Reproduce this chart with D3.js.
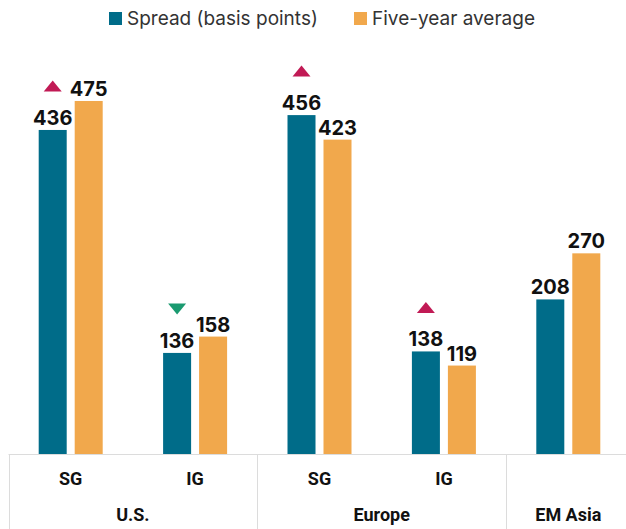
<!DOCTYPE html>
<html>
<head>
<meta charset="utf-8">
<script src="https://cdn.jsdelivr.net/npm/d3@7"></script>
<style>
  body { margin: 0; background: #fff; }
  svg { display: block; }
</style>
</head>
<body>
<svg id="chart" width="626" height="529"></svg>
<script>
// data
const regions = ['U.S.', 'U.S.', 'Europe', 'Europe', 'EM Asia']
const grades = ['SG', 'IG', 'SG', 'IG', '']
const spread = [436, 136, 456, 138, 208]
const fiveYearAvg = [475, 158, 423, 119, 270]
const change = ['up', 'down', 'up', 'up', null]
const seriesNames = ['Spread (basis points)', 'Five-year average']

const colors = { spread: '#006c89', avg: '#f1a84c', up: '#c11a55', down: '#1a9a70' }

let svg = d3.select('#chart')
let base = 454

let x = d3.scaleBand()
    .domain(d3.range(regions.length))
    .range([8.5, 630.5])
    .padding(0)

let sub = d3.scaleBand()
    .domain(['spread', 'avg'])
    .range([-32, 32])
    .paddingInner(0.222)

let y = d3.scaleLinear()
    .domain([0, 500])
    .range([base, base - 500 * 0.7432])

let rows = regions.map((r, i) => ({
  i: i, region: r, grade: grades[i], spread: spread[i], avg: fiveYearAvg[i], change: change[i]
}))

// category frame
let frame = svg.append('g').attr('class', 'frame')
frame.append('line')
    .attr('x1', 8.5).attr('x2', 626)
    .attr('y1', base + 0.5).attr('y2', base + 0.5)
    .attr('stroke', '#dcdcdc')

let groups = d3.groups(rows, d => d.region)
let starts = groups.map(g => x(g[1][0].i))
frame.selectAll('.sep')
    .data(starts)
  .enter().append('line')
    .attr('class', 'sep')
    .attr('x1', d => Math.round(d) + 0.5).attr('x2', d => Math.round(d) + 0.5)
    .attr('y1', base).attr('y2', 529)
    .attr('stroke', '#dcdcdc')

frame.selectAll('.grade')
    .data(rows.filter(d => d.grade))
  .enter().append('text')
    .attr('class', 'grade')
    .attr('x', d => x(d.i) + x.bandwidth() / 2)
    .attr('y', 485)
    .attr('text-anchor', 'middle')
    .style('font-family', 'Roboto, sans-serif')
    .style('font-weight', 'bold')
    .style('font-size', '18px')
    .attr('fill', '#111')
    .text(d => d.grade)

frame.selectAll('.region')
    .data(groups)
  .enter().append('text')
    .attr('class', 'region')
    .attr('x', g => {
      let a = x(g[1][0].i)
      let b = x(g[1][g[1].length - 1].i) + x.bandwidth()
      return (a + b) / 2
    })
    .attr('y', 521)
    .attr('text-anchor', 'middle')
    .style('font-family', 'Roboto, sans-serif')
    .style('font-weight', 'bold')
    .style('font-size', '18px')
    .attr('fill', '#111')
    .text(g => g[0])

// bars
let chart = svg.append('g').attr('class', 'bars')
;['spread', 'avg'].forEach(key => {
  chart.selectAll('.bar-' + key)
      .data(rows)
    .enter().append('rect')
      .attr('class', 'bar-' + key)
      .attr('x', d => x(d.i) + x.bandwidth() / 2 + sub(key))
      .attr('y', d => y(d[key]))
      .attr('width', sub.bandwidth())
      .attr('height', d => base - y(d[key]))
      .attr('fill', colors[key])

  chart.selectAll('.lbl-' + key)
      .data(rows)
    .enter().append('text')
      .attr('class', 'lbl-' + key)
      .attr('x', d => x(d.i) + x.bandwidth() / 2 + sub(key) + sub.bandwidth() / 2)
      .attr('y', d => y(d[key]) - 5)
      .attr('text-anchor', 'middle')
      .style('font-family', 'Inter, sans-serif')
      .style('font-weight', 'bold')
      .style('font-size', '20px')
      .attr('fill', '#111')
      .text(d => d[key])
})

// change markers over the spread bars
chart.selectAll('.marker')
    .data(rows.filter(d => d.change))
  .enter().append('path')
    .attr('class', 'marker')
    .attr('transform', d => {
      let cx = x(d.i) + x.bandwidth() / 2 + sub('spread') + sub.bandwidth() / 2
      return 'translate(' + cx + ',' + (y(d.spread) - 44) + ')'
    })
    .attr('d', d => d.change === 'up' ? 'M-9,5.5L9,5.5L0,-5.5Z' : 'M-9,-5.5L9,-5.5L0,5.5Z')
    .attr('fill', d => colors[d.change])

// legend
let legend = svg.append('g').attr('class', 'legend')
let lx = [109, 354]
seriesNames.forEach((name, i) => {
  legend.append('rect')
      .attr('x', lx[i]).attr('y', 12)
      .attr('width', 13).attr('height', 13)
      .attr('fill', i === 0 ? colors.spread : colors.avg)
  legend.append('text')
      .attr('x', lx[i] + 18).attr('y', 25)
      .style('font-family', 'Inter, sans-serif')
      .style('font-size', '19px')
      .attr('fill', '#333')
      .text(name)
})
</script>
</body>
</html>
